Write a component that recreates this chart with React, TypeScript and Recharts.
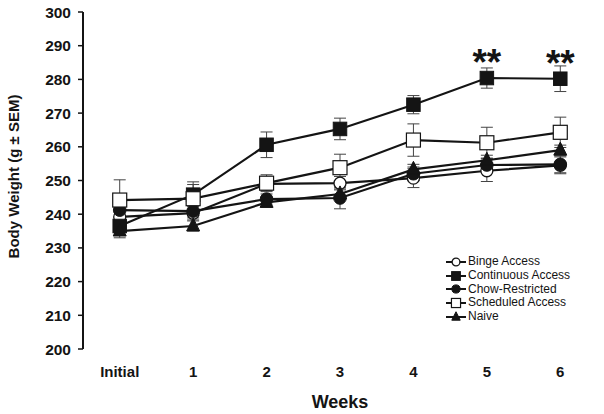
import React from 'react';
import { LineChart, Line, XAxis, YAxis, ErrorBar, LabelList } from 'recharts';

const categories = ['Initial', '1', '2', '3', '4', '5', '6'];
const binge = [239.2, 240.3, 249, 249.2, 250.7, 252.9, 254.5];
const bingeErr = [2, 2, 2, 2, 2.8, 3.2, 2.5];
const continuous = [236.5, 245.8, 260.6, 265.3, 272.5, 280.4, 280.2];
const continuousErr = [2, 3, 3.8, 3.2, 2.7, 3, 3.8];
const chow = [241.2, 240.9, 244.5, 244.8, 252, 254.6, 254.8];
const chowErr = [2, 2, 1.5, 3.2, 2, 2, 2.5];
const scheduled = [244.2, 244.6, 249.2, 253.8, 262, 261.2, 264.3];
const scheduledErr = [6, 5, 2.5, 4, 4.8, 4.6, 4.5];
const naive = [235, 236.5, 243.5, 246, 253.3, 256, 259];
const naiveErr = [2, 1.5, 1.5, 1.5, 1.5, 1.5, 1.5];
const significance = ['', '', '', '', '', '**', '**'];
const yTicks = [200, 210, 220, 230, 240, 250, 260, 270, 280, 290, 300];
const yMinorTicks = [205, 215, 225, 235, 245, 255, 265, 275, 285, 295];

const rows = categories.map((c, i) => ({
  x: i,
  label: c,
  binge: binge[i],
  bingeErr: bingeErr[i],
  continuous: continuous[i],
  continuousErr: continuousErr[i],
  chow: chow[i],
  chowErr: chowErr[i],
  scheduled: scheduled[i],
  scheduledErr: scheduledErr[i],
  naive: naive[i],
  naiveErr: naiveErr[i],
  sig: significance[i],
}));

const FONT = 'Arial, "Liberation Sans", sans-serif';
const INK = '#141414';

type Shape = 'openCircle' | 'filledSquare' | 'filledCircle' | 'openSquare' | 'triangle';

const Marker = ({ shape, cx, cy, scale = 1 }: { shape: Shape; cx: number; cy: number; scale?: number }) => {
  switch (shape) {
    case 'openCircle':
      return <circle cx={cx} cy={cy} r={6 * scale} fill="#fff" stroke={INK} strokeWidth={1.3} />;
    case 'filledCircle':
      return <circle cx={cx} cy={cy} r={6.3 * scale} fill={INK} stroke={INK} strokeWidth={1} />;
    case 'filledSquare': {
      const s = 13.5 * scale;
      return <rect x={cx - s / 2} y={cy - s / 2} width={s} height={s} fill={INK} stroke={INK} strokeWidth={1} />;
    }
    case 'openSquare': {
      const s = 14 * scale;
      return <rect x={cx - s / 2} y={cy - s / 2} width={s} height={s} fill="#fff" stroke={INK} strokeWidth={1.2} />;
    }
    case 'triangle': {
      const w = 13 * scale;
      const h = 13 * scale;
      return (
        <polygon
          points={`${cx},${cy - h * 0.62} ${cx - w / 2},${cy + h * 0.38} ${cx + w / 2},${cy + h * 0.38}`}
          fill={INK}
          stroke={INK}
          strokeWidth={1}
        />
      );
    }
  }
  return null;
};

const series: { key: string; err: string; name: string; shape: Shape }[] = [
  { key: 'binge', err: 'bingeErr', name: 'Binge Access', shape: 'openCircle' },
  { key: 'continuous', err: 'continuousErr', name: 'Continuous Access', shape: 'filledSquare' },
  { key: 'chow', err: 'chowErr', name: 'Chow-Restricted', shape: 'filledCircle' },
  { key: 'scheduled', err: 'scheduledErr', name: 'Scheduled Access', shape: 'openSquare' },
  { key: 'naive', err: 'naiveErr', name: 'Naive', shape: 'triangle' },
];

const makeDot = (shape: Shape) => (props: any) => {
  const { cx, cy, index } = props;
  if (cx == null || cy == null) return <g key={`d-${index}`} />;
  return (
    <g key={`d-${shape}-${index}`}>
      <Marker shape={shape} cx={cx} cy={cy} />
    </g>
  );
};

const SigLabel = (props: any) => {
  const { x, y, value, index } = props;
  if (!value) return null;
  return (
    <text
      key={`sig-${index}`}
      x={x}
      y={y - 3}
      textAnchor="middle"
      fontFamily={FONT}
      fontWeight="bold"
      fontSize={37}
      fill={INK}
    >
      {value}
    </text>
  );
};

const LegendBox = () => (
  <div
    style={{
      position: 'absolute',
      left: 445,
      top: 255,
      fontFamily: FONT,
      fontSize: 12,
      color: INK,
      lineHeight: '13.8px',
    }}
  >
    {series.map((s) => (
      <div key={s.key} style={{ display: 'flex', alignItems: 'center', height: 13.8, whiteSpace: 'nowrap' }}>
        <svg width={22} height={12} style={{ display: 'block' }}>
          <line x1={1} y1={6} x2={21} y2={6} stroke={INK} strokeWidth={2} />
          <Marker shape={s.shape} cx={11} cy={6} scale={0.65} />
        </svg>
        <span style={{ marginLeft: 1 }}>{s.name}</span>
      </div>
    ))}
  </div>
);

const YLabel = (props: any) => {
  const { viewBox } = props;
  const cy = viewBox.y + viewBox.height / 2 - 4;
  const cx = 13;
  return (
    <text
      x={cx}
      y={cy}
      transform={`rotate(-90, ${cx}, ${cy})`}
      textAnchor="middle"
      dominantBaseline="central"
      fontFamily={FONT}
      fontWeight="bold"
      fontSize={15}
      fill={INK}
    >
      Body Weight (g ± SEM)
    </text>
  );
};

export default function App() {
  return (
    <div style={{ position: 'absolute', left: 0, top: 0, width: 604, height: 414, background: '#fff' }}>
      <LineChart width={604} height={414} data={rows} margin={{ top: 12, right: 7, bottom: 0, left: 0 }}>
        <XAxis
          xAxisId="ticks"
          dataKey="x"
          type="number"
          domain={[-0.5, 6.5]}
          ticks={[0.5, 1.5, 2.5, 3.5, 4.5, 5.5, 6.5]}
          tick={false}
          tickSize={5}
          height={0}
          axisLine={{ stroke: INK, strokeWidth: 2 }}
          tickLine={{ stroke: INK, strokeWidth: 1.5 }}
          allowDataOverflow
        />
        <XAxis
          xAxisId="lab"
          dataKey="x"
          type="number"
          domain={[-0.5, 6.5]}
          ticks={[0, 1, 2, 3, 4, 5, 6]}
          tickFormatter={(v: number) => categories[v]}
          tick={{ fontFamily: FONT, fontWeight: 'bold', fontSize: 15, fill: INK }}
          tickLine={false}
          axisLine={false}
          tickSize={0}
          tickMargin={17}
          height={65}
          interval={0}
          label={{
            value: 'Weeks',
            position: 'insideBottom',
            offset: 6,
            style: { fontFamily: FONT, fontWeight: 'bold', fontSize: 18, fill: INK },
          }}
        />
        <YAxis
          yAxisId="minor"
          type="number"
          domain={[200, 300]}
          ticks={yMinorTicks}
          tick={false}
          tickSize={3}
          width={0}
          axisLine={false}
          tickLine={{ stroke: INK, strokeWidth: 1.2 }}
          allowDataOverflow
        />
        <YAxis
          yAxisId="maj"
          type="number"
          domain={[200, 300]}
          ticks={yTicks}
          interval={0}
          width={83}
          tickSize={5}
          tickMargin={7}
          tick={{ fontFamily: FONT, fontWeight: 'bold', fontSize: 15.5, fill: INK }}
          axisLine={{ stroke: INK, strokeWidth: 2 }}
          tickLine={{ stroke: INK, strokeWidth: 1.5 }}
          label={<YLabel />}
        />
        {series.map((s) => (
          <Line
            key={s.key}
            xAxisId="lab"
            yAxisId="maj"
            dataKey={s.key}
            name={s.name}
            stroke={INK}
            strokeWidth={2.2}
            dot={makeDot(s.shape)}
            activeDot={false}
            isAnimationActive={false}
          >
            <ErrorBar dataKey={s.err} width={6} stroke="#444" strokeWidth={1} direction="y" />
            {s.key === 'continuous' ? <LabelList dataKey="sig" content={<SigLabel />} /> : null}
          </Line>
        ))}
      </LineChart>
      <LegendBox />
    </div>
  );
}
